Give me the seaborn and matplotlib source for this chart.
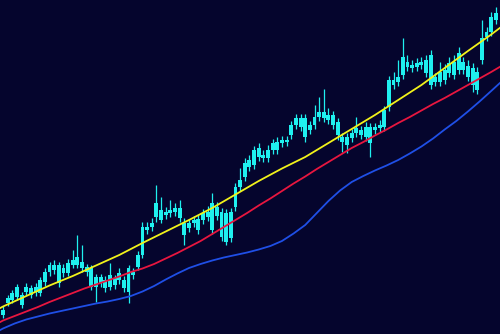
import matplotlib
matplotlib.use("Agg")
import matplotlib.pyplot as plt
import seaborn as sns
import pandas as pd
import numpy as np

# ---- candlestick data (price units) ----
opens = [19, 31, 34, 37, 39, 42, 46, 42, 41, 52, 62, 64, 69, 61, 61, 69, 69, 72, 67, 66,
         57, 51, 54, 47, 56, 54, 54, 42, 59, 67, 79, 104, 107, 117, 124, 119, 121, 122, 126, 111,
         106, 111, 115, 114, 117, 131, 118, 122, 121, 96, 127, 147, 157, 167, 169, 177, 179, 176, 184, 184,
         191, 192, 199, 209, 216, 216, 204, 209, 217, 222, 219, 219, 212, 197, 197, 196, 201, 204, 197, 207,
         204, 206, 207, 227, 249, 252, 259, 267, 269, 267, 269, 274, 279, 257, 252, 254, 261, 272, 264, 272,
         268, 266, 262, 274, 297, 302, 314]
closes = [24, 36, 41, 47, 29, 47, 39, 47, 54, 62, 69, 69, 51, 66, 71, 74, 77, 66, 62, 47,
          47, 57, 46, 59, 49, 61, 46, 66, 62, 79, 107, 107, 111, 131, 114, 122, 124, 126, 116, 99,
          111, 114, 104, 121, 122, 104, 127, 97, 92, 122, 147, 154, 171, 174, 184, 186, 176, 184, 191, 192,
          194, 194, 209, 216, 207, 197, 209, 217, 222, 216, 214, 209, 199, 192, 189, 201, 206, 199, 207, 191,
          207, 209, 224, 254, 254, 257, 277, 272, 266, 271, 272, 261, 249, 252, 262, 264, 271, 259, 281, 264,
          257, 249, 244, 296, 302, 317, 321]
highs = [28, 39, 44, 50, 42, 51, 49, 51, 57, 66, 72, 74, 72, 70, 75, 84, 99, 89, 70, 69,
         60, 60, 58, 71, 59, 66, 58, 69, 66, 83, 112, 112, 116, 149, 137, 127, 134, 131, 134, 116,
         115, 118, 119, 125, 128, 141, 132, 126, 125, 126, 151, 166, 176, 179, 188, 191, 184, 189, 195, 197,
         198, 198, 213, 220, 220, 220, 213, 229, 237, 245, 226, 223, 216, 201, 201, 205, 217, 208, 212, 211,
         211, 214, 228, 258, 262, 274, 296, 279, 274, 276, 277, 279, 284, 261, 272, 270, 277, 279, 287, 277,
         274, 271, 267, 314, 307, 322, 327]
lows = [16, 28, 31, 34, 26, 39, 36, 38, 38, 48, 58, 60, 47, 57, 58, 66, 66, 62, 58, 44,
        32, 47, 42, 44, 45, 50, 42, 31, 55, 64, 76, 100, 103, 112, 111, 115, 117, 118, 112, 89,
        102, 107, 100, 110, 113, 100, 114, 93, 89, 92, 123, 143, 153, 163, 165, 173, 172, 172, 180, 180,
        187, 188, 195, 205, 203, 192, 200, 205, 213, 212, 210, 205, 194, 182, 181, 192, 197, 195, 193, 177,
        200, 202, 203, 223, 245, 248, 255, 263, 262, 263, 265, 257, 245, 248, 248, 250, 257, 255, 260, 260,
        253, 242, 240, 270, 293, 298, 310]

# ---- moving-average lines ----
yellow_index = [-1, 0, 5, 10, 15, 20, 25, 30, 35, 40, 45, 50, 55, 60, 65, 70, 75, 80, 85, 90,
                95, 100, 105, 106, 107]
ma_yellow = [25, 27.5, 38, 48.5, 58, 68.5, 79, 91, 102.5, 114, 126, 139.5, 153, 165.5, 177,
             191, 205, 219, 234, 249, 266, 283, 299.5, 303, 306.5]

line_index = [-1, 0, 2.5, 5, 7.5, 10, 12.5, 15, 17.5, 20, 22.5, 25, 27.5, 30, 32.5, 35, 37.5,
              40, 42.5, 45, 47.5, 50, 52.5, 55, 57.5, 60, 62.5, 65, 67.5, 70, 72.5, 75, 77.5,
              80, 82.5, 85, 87.5, 90, 92.5, 95, 97.5, 100, 102.5, 105, 107]
ma_red = [11, 13.5, 18, 22.5, 27, 32, 36.5, 41, 45.5, 49.5, 53.5, 57.5, 62, 65.5, 70, 75.5,
          81, 87, 93, 100, 107, 114, 121, 128.5, 135.5, 143, 150.5, 157.5, 165, 172, 179, 186,
          192, 198.5, 204.5, 211, 217, 223.5, 230, 236, 242.5, 249, 255.5, 262, 267.5]
ma_blue = [3, 5.5, 10.5, 14.5, 17.5, 20.5, 23, 25.5, 28, 30.5, 32.5, 35, 38, 42.5, 48, 54.5,
           60.5, 66, 70, 73.5, 76.5, 79, 81.5, 84.5, 88, 93, 100.5, 109, 121, 133, 143.5, 152,
           158, 163.5, 168.5, 174, 180.5, 187.5, 195.5, 204.5, 213, 222.5, 232.5, 243, 251.5]

BG = "#05052d"
CANDLE = "#1ff0ef"

sns.set_theme(style="dark", rc={"axes.facecolor": BG, "figure.facecolor": BG})

fig = plt.figure(figsize=(5.0, 3.34), dpi=100)
ax = fig.add_axes([0, 0, 1, 1])
ax.set_facecolor(BG)

n = len(opens)
idx = np.arange(n)
o = np.array(opens, float)
c = np.array(closes, float)
body_lo = np.minimum(o, c)
body_h = np.maximum(np.abs(c - o), 1.5)

# wicks
ax.vlines(idx, lows, highs, color=CANDLE, linewidth=0.9, zorder=2)
# bodies
ax.bar(idx, body_h, bottom=body_lo, width=0.84, color=CANDLE, edgecolor="none", zorder=3)

y_df = pd.DataFrame({"i": yellow_index, "yellow": ma_yellow})
rb_df = pd.DataFrame({"i": line_index, "red": ma_red, "blue": ma_blue})
sns.lineplot(data=rb_df, x="i", y="blue", ax=ax, color="#1f4fe6", linewidth=1.3, zorder=4)
sns.lineplot(data=rb_df, x="i", y="red", ax=ax, color="#e8163f", linewidth=1.3, zorder=5)
sns.lineplot(data=y_df, x="i", y="yellow", ax=ax, color="#f2f21a", linewidth=1.3, zorder=6)

ax.set_xlim(-0.65, 106.9)
ax.set_ylim(0, 334)
ax.set_axis_off()

fig.savefig("out.png", dpi=100, facecolor=BG)
